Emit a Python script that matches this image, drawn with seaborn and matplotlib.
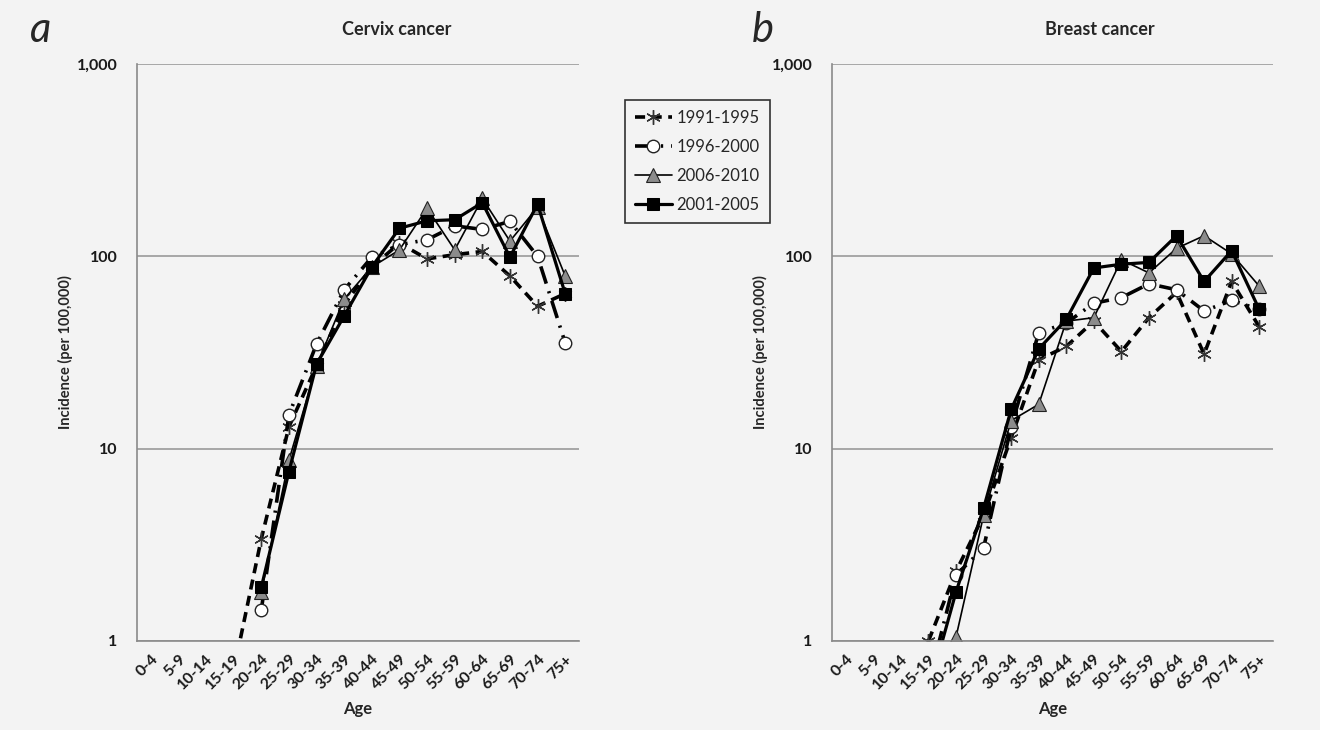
import numpy as np
import pandas as pd
import seaborn as sns
import matplotlib.pyplot as plt

nan = np.nan

# Age groups
ages = ['0-4', '5-9', '10-14', '15-19', '20-24', '25-29', '30-34', '35-39',
        '40-44', '45-49', '50-54', '55-59', '60-64', '65-69', '70-74', '75+']

# Cervix cancer incidence (per 100,000)
cervix_9195 = [nan, nan, nan, 0.7, 3.4, 13, 27, 56, 88, 117, 97, 102, 106, 79, 55, 64]
cervix_9600 = [nan, nan, nan, nan, 1.45, 15, 35, 67, 99, 115, 122, 144, 138, 152, 100, 35.5]
cervix_0610 = [nan, nan, nan, nan, 1.8, 8.7, 27, 60, 88, 108, 178, 108, 200, 120, 180, 79]
cervix_0105 = [nan, nan, nan, nan, 1.9, 7.6, 27.5, 49, 88, 140, 153, 155, 190, 99, 187, 64]

# Breast cancer incidence (per 100,000)
breast_9195 = [nan, nan, nan, 1.0, 2.3, 4.5, 11.4, 29, 34, 46, 32, 48, 65, 31, 74, 43]
breast_9600 = [nan, nan, nan, 0.6, 2.2, 3.05, 13, 40, 45, 57, 61, 72, 67, 52, 59, 53]
breast_0610 = [nan, nan, nan, nan, 1.05, 4.5, 14, 17, 46, 48, 96, 82, 110, 128, 103, 70]
breast_0105 = [nan, nan, nan, 0.55, 1.8, 4.9, 16, 33, 47, 87, 91, 93, 128, 74, 107, 53]

periods = ['1991-1995', '1996-2000', '2006-2010', '2001-2005']

# line look per period
styles = {
    '1991-1995': dict(color='black', lw=2.6, linestyle=(0, (2.8, 1.8)), marker=(6, 2, 0),
                      markersize=10.5, markeredgecolor='#333333', markeredgewidth=1.0),
    '1996-2000': dict(color='black', lw=2.6, linestyle=(0, (5, 2.2, 0.6, 2.2)), marker='o',
                      markersize=9, markerfacecolor='white', markeredgecolor='#222222',
                      markeredgewidth=1.0),
    '2006-2010': dict(color='black', lw=1.2, linestyle='-', marker='^', markersize=9.5,
                      markerfacecolor='#8c8c8c', markeredgecolor='#222222', markeredgewidth=0.8),
    '2001-2005': dict(color='black', lw=2.3, linestyle='-', marker='s', markersize=8.5,
                      markerfacecolor='black', markeredgecolor='black'),
}

sns.set_theme(style='white')
plt.rcParams['font.family'] = ['Lato', 'DejaVu Sans']

bg = '#f3f3f3'
fig = plt.figure(figsize=(13.2, 7.3), dpi=100, facecolor=bg)
ax_a = fig.add_axes([137 / 1320, 89 / 730, 442 / 1320, 577 / 730])
ax_b = fig.add_axes([832 / 1320, 89 / 730, 441 / 1320, 577 / 730])

x = np.arange(len(ages))
panels = [
    (ax_a, 'Cervix cancer', [cervix_9195, cervix_9600, cervix_0610, cervix_0105], 0.588),
    (ax_b, 'Breast cancer', [breast_9195, breast_9600, breast_0610, breast_0105], 0.608),
]

for ax, title, series, tx in panels:
    ax.set_facecolor(bg)
    ax.set_yscale('log')
    for name, vals in zip(periods, series):
        df = pd.DataFrame({'x': x, 'y': vals}).dropna()
        sns.lineplot(data=df, x='x', y='y', ax=ax, estimator=None, label=name,
                     **styles[name])
    ax.set_ylim(1, 1000)
    ax.set_xlim(-0.5, len(ages) - 0.5)
    ax.set_yticks([1, 10, 100, 1000])
    ax.set_yticklabels(['1', '10', '100', '1,000'])
    ax.minorticks_off()
    ax.set_xticks(x)
    ax.set_xticklabels(ages, rotation=45, ha='right', rotation_mode='anchor')
    for lab in ax.get_xticklabels() + ax.get_yticklabels():
        lab.set_fontweight('bold')
        lab.set_fontsize(11.5)
        lab.set_color('#1a1a1a')
    ax.tick_params(axis='both', length=0)
    ax.tick_params(axis='x', pad=8)
    ax.tick_params(axis='y', pad=14)
    ax.yaxis.grid(True, color='#9a9a9a', lw=1.2)
    ax.set_axisbelow(True)
    for s in ['top', 'right']:
        ax.spines[s].set_visible(False)
    for s in ['left', 'bottom']:
        ax.spines[s].set_color('#8a8a8a')
        ax.spines[s].set_linewidth(1.2)
    ax.set_xlabel('Age', fontsize=12, fontweight='bold', labelpad=6)
    ax.set_ylabel('Incidence (per 100,000)', fontsize=10.5, fontweight='bold', labelpad=3)
    ax.set_title(title, fontsize=13, fontweight='bold', x=tx, y=1.035)
    ax.get_legend().remove()

fig.text(30 / 1320, 1 - 30 / 730, 'a', fontsize=30, fontstyle='italic', va='center')
fig.text(752 / 1320, 1 - 30 / 730, 'b', fontsize=30, fontstyle='italic', va='center')

handles, labels = ax_a.get_legend_handles_labels()
leg = fig.legend(handles, labels, loc='upper left', bbox_to_anchor=(625 / 1320, 1 - 100 / 730),
                 frameon=True, fancybox=False, edgecolor='black', facecolor=bg,
                 fontsize=12, handlelength=2.2, labelspacing=0.78, borderpad=0.6,
                 handletextpad=0.3, borderaxespad=0)
leg.get_frame().set_linewidth(1.2)

fig.savefig('out.png', dpi=100, facecolor=bg)
